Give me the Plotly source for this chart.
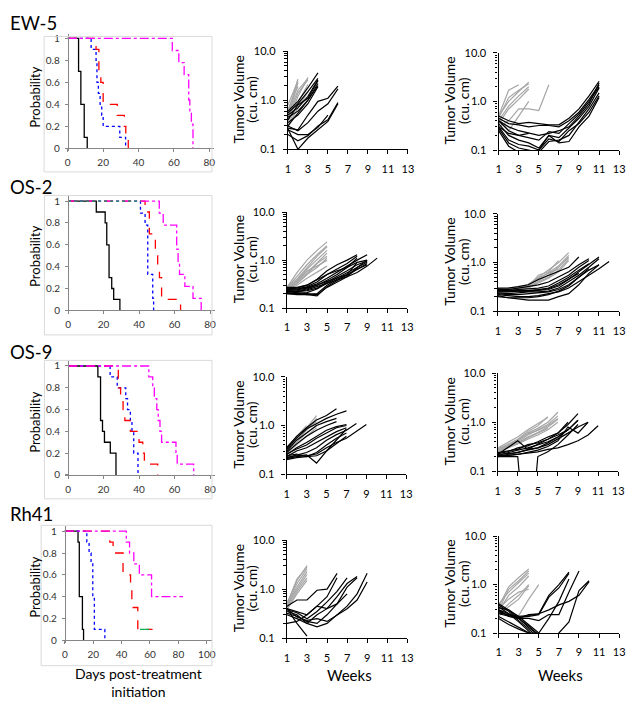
import plotly.graph_objects as go

W, H = 639, 709

# ---------------- Kaplan-Meier data (order: control black, blue, red, magenta) ----------------
ew5_times = [[0, 6.1, 7.4, 9.3, 11],
             [0, 13.2, 16, 16.5, 17.3, 18.3, 19.2, 20, 29.4, 32.7],
             [0, 16, 17.6, 18.7, 20, 28, 32, 32.8, 34.2],
             [0, 59.1, 62.8, 65.8, 68.4, 69, 69.9, 70.8]]
ew5_surv = [[1, 0.7, 0.4, 0.1, 0],
            [1, 0.9, 0.8, 0.6, 0.5, 0.4, 0.3, 0.2, 0.1, 0],
            [1, 0.9, 0.7, 0.6, 0.4, 0.3, 0.2, 0.1, 0],
            [1, 0.89, 0.78, 0.67, 0.44, 0.33, 0.22, 0]]

os2_times = [[0, 15.9, 20.9, 21.8, 23.1, 24.6, 25.7, 29.2],
             [0, 40.8, 43.4, 44.9, 47.7, 48.2],
             [0, 43.4, 45.8, 49.2, 50.5, 51.5, 52.7, 63.4],
             [0, 51.4, 53.6, 61.2, 62, 62.8, 65.8, 70.4, 75]]
os2_surv = [[1, 0.9, 0.8, 0.6, 0.3, 0.2, 0.1, 0],
            [1, 0.89, 0.78, 0.33, 0.11, 0],
            [1, 0.9, 0.7, 0.5, 0.4, 0.3, 0.1, 0],
            [1, 0.89, 0.78, 0.56, 0.44, 0.33, 0.22, 0.11, 0]]
os2_green_t = [0, 41]
os2_green_s = [1, 1]

os9_times = [[0, 16.8, 18.3, 19.4, 20.5, 23.8, 27],
             [0, 23.7, 27.7, 32.5, 33.5, 35.1, 36, 37, 39.4],
             [0, 28.3, 29.6, 31, 32, 35.1, 40, 42.1, 43, 50.5],
             [0, 45.5, 47.7, 48.6, 50, 50.8, 51.8, 52.7, 60.8, 61.5, 70.8]]
os9_surv = [[1, 0.9, 0.5, 0.4, 0.3, 0.2, 0],
            [1, 0.9, 0.8, 0.7, 0.6, 0.5, 0.4, 0.2, 0],
            [1, 0.8, 0.7, 0.6, 0.5, 0.4, 0.3, 0.2, 0.1, 0],
            [1, 0.9, 0.8, 0.7, 0.6, 0.5, 0.4, 0.3, 0.2, 0.1, 0]]

rh41_times = [[0, 9.3, 10.2, 12.4, 13.2],
              [0, 15.5, 17.1, 18.5, 19.7, 20.8, 28.2],
              [0, 31.7, 34, 41, 46.3, 47.2, 51.4, 61.8],
              [0, 43.3, 45.6, 48.6, 52.5, 61.1, 83.3]]
rh41_surv = [[1, 0.9, 0.4, 0.1, 0],
             [1, 0.9, 0.8, 0.7, 0.4, 0.1, 0],
             [1, 0.9, 0.8, 0.6, 0.5, 0.3, 0.1, 0.1],
             [1, 0.9, 0.8, 0.7, 0.6, 0.4, 0.4]]
rh41_green_t = [53, 60]
rh41_green_s = [0.1, 0.1]

# ---------------- Tumor volume data (weekly, starting week 1) ----------------
ew5_mid_gray = [[0.55, 2.7], [0.45, 2.3], [0.65, 1.9], [0.8, 2.5],
                [0.35, 1.2, 2.9], [0.4, 1.4, 2.6], [0.3, 0.9, 2.1],
                [0.5, 1.6, 2.8], [0.28, 0.7, 1.5]]
ew5_mid_black = [[0.6, 0.95, 1.8, 3.6], [0.55, 0.85, 1.5, 2.8], [0.5, 0.7, 1.2, 2.6],
                 [0.45, 0.6, 1.0, 2.2], [0.35, 0.5, 0.85, 1.9], [0.4, 0.8, 1.1, 2.5],
                 [0.3, 0.55, 1.0, 2.0],
                 [0.27, 0.25, 0.5, 0.95, 1.1, 1.95], [0.3, 0.24, 0.35, 0.6, 0.85, 1.7],
                 [0.2, 0.15, 0.19, 0.3, 0.4, 0.9], [0.26, 0.1, 0.17, 0.25, 0.37, 0.85],
                 [0.25, 0.2, 0.2, 0.28, 0.5]]

ew5_right_gray = [[0.5, 1.0, 1.6, 2.5], [0.45, 1.2, 1.7, 2.3], [0.4, 0.8, 1.3, 2.0],
                  [0.35, 0.7, 1.1, 1.8], [0.5, 1.7, 2.2],
                  [0.3, 0.4, 0.7, 0.7, 0.65, 2.2], [0.45, 0.25, 0.5, 1.0]]
ew5_right_black = [[0.5, 0.4, 0.35, 0.37, 0.35, 0.33, 0.33, 0.45, 0.7, 1.3, 2.6],
                   [0.45, 0.35, 0.33, 0.3, 0.32, 0.32, 0.3, 0.4, 0.6, 1.1, 2.2],
                   [0.4, 0.3, 0.25, 0.22, 0.2, 0.22, 0.25, 0.3, 0.5, 0.9, 2.4],
                   [0.35, 0.2, 0.16, 0.14, 0.11, 0.2, 0.18, 0.28, 0.45, 0.8, 1.9],
                   [0.3, 0.16, 0.13, 0.12, 0.1, 0.17, 0.15, 0.25, 0.35, 0.6, 1.3],
                   [0.28, 0.14, 0.11, 0.1, 0.09, 0.15, 0.16, 0.2, 0.38, 0.7, 1.5],
                   [0.25, 0.12, 0.09, 0.08, 0.1, 0.2, 0.14, 0.15, 0.3, 0.5, 1.2],
                   [0.4, 0.25, 0.2, 0.18, 0.16, 0.24, 0.22, 0.35, 0.55, 1.0, 2.0],
                   [0.3, 0.22, 0.2, 0.22]]

os2_mid_gray = [[0.27, 0.55, 1.0, 1.6, 2.4], [0.26, 0.45, 0.8, 1.3, 2.0],
                [0.28, 0.4, 0.7, 1.2, 1.9], [0.25, 0.38, 0.65, 1.0, 1.6],
                [0.26, 0.35, 0.55, 0.9, 1.4], [0.24, 0.33, 0.5, 0.85, 1.2],
                [0.27, 0.36, 0.6, 0.75, 1.0], [0.25, 0.3, 0.42, 0.55, 0.75],
                [0.26, 0.32, 0.5, 0.7, 1.1]]
os2_mid_black = [[0.25, 0.26, 0.3, 0.4, 0.6, 0.8, 1.0, 1.3],
                 [0.24, 0.25, 0.28, 0.35, 0.5, 0.65, 0.85, 1.2],
                 [0.26, 0.25, 0.27, 0.32, 0.42, 0.55, 0.75, 1.0, 1.3],
                 [0.23, 0.23, 0.25, 0.3, 0.38, 0.5, 0.7, 0.9, 1.0],
                 [0.22, 0.22, 0.23, 0.26, 0.35, 0.45, 0.6, 0.8, 0.95],
                 [0.21, 0.2, 0.21, 0.25, 0.33, 0.42, 0.55, 0.7, 0.9],
                 [0.2, 0.2, 0.19, 0.18, 0.28, 0.38, 0.5, 0.65, 0.8],
                 [0.22, 0.21, 0.2, 0.19, 0.27, 0.35, 0.45, 0.55, 0.75, 1.1],
                 [0.27, 0.27, 0.3, 0.38, 0.5, 0.6, 0.7, 1.1],
                 [0.24, 0.24, 0.26, 0.3, 0.36, 0.42, 0.5, 0.9],
                 [0.2, 0.19, 0.19, 0.2, 0.3, 0.4, 0.48, 0.65, 0.85],
                 [0.23, 0.22, 0.24, 0.28, 0.33, 0.38, 0.45, 0.7, 1.0]]

os2_right_gray = [[0.27, 0.28, 0.3, 0.35, 0.5, 0.7, 1.0, 1.6],
                  [0.26, 0.27, 0.29, 0.33, 0.45, 0.6, 0.85, 1.4],
                  [0.28, 0.28, 0.3, 0.32, 0.42, 0.55, 0.8, 1.3],
                  [0.25, 0.26, 0.28, 0.32, 0.55, 0.65, 1.1],
                  [0.27, 0.26, 0.28, 0.3, 0.4, 0.5, 0.7, 1.2],
                  [0.26, 0.25, 0.27, 0.3, 0.38, 0.48, 0.65, 1.1],
                  [0.28, 0.29, 0.31, 0.36, 0.48, 0.6, 0.75]]
os2_right_black = [[0.3, 0.3, 0.32, 0.35, 0.45, 0.55, 0.65, 0.8, 1.3],
                   [0.28, 0.28, 0.3, 0.32, 0.35, 0.4, 0.5, 0.65, 0.9, 1.2],
                   [0.27, 0.27, 0.28, 0.29, 0.3, 0.33, 0.42, 0.55, 0.8, 1.1],
                   [0.26, 0.26, 0.27, 0.27, 0.28, 0.3, 0.38, 0.5, 0.7, 0.95],
                   [0.25, 0.25, 0.26, 0.26, 0.27, 0.28, 0.33, 0.45, 0.65, 0.9, 1.3],
                   [0.24, 0.23, 0.24, 0.25, 0.25, 0.26, 0.3, 0.4, 0.55, 0.8, 1.2],
                   [0.23, 0.22, 0.22, 0.23, 0.24, 0.25, 0.28, 0.35, 0.5, 0.7, 0.9],
                   [0.22, 0.21, 0.2, 0.2, 0.21, 0.23, 0.25, 0.3, 0.4, 0.55, 0.75, 1.05],
                   [0.21, 0.19, 0.18, 0.17, 0.17, 0.17, 0.2, 0.23, 0.35, 0.6, 0.9],
                   [0.2, 0.19, 0.19, 0.19, 0.2, 0.22, 0.26, 0.33, 0.5, 0.75],
                   [0.29, 0.27, 0.26, 0.26, 0.27, 0.29, 0.35, 0.45, 0.6]]

os9_mid_gray = [[0.3, 0.55, 0.9, 1.6], [0.28, 0.5, 0.8, 1.4], [0.32, 0.6, 0.85, 1.2],
                [0.26, 0.45, 0.7, 1.0], [0.27, 0.4, 0.6, 0.9], [0.35, 0.6, 1.0]]
os9_mid_black = [[0.35, 0.6, 0.9, 1.3, 1.6, 2.2],
                 [0.33, 0.55, 0.85, 1.1, 1.4, 1.7, 2.0],
                 [0.3, 0.5, 0.7, 1.0, 1.2, 1.4],
                 [0.28, 0.42, 0.6, 0.8, 1.0, 1.2],
                 [0.25, 0.35, 0.45, 0.6, 0.8, 0.95, 1.05],
                 [0.23, 0.3, 0.35, 0.45, 0.6, 0.75, 0.9],
                 [0.22, 0.25, 0.28, 0.35, 0.5, 0.65, 0.8, 1.1],
                 [0.21, 0.23, 0.24, 0.26, 0.35, 0.45, 0.55, 0.75, 1.05],
                 [0.22, 0.24, 0.25, 0.17, 0.3, 0.5, 0.85],
                 [0.24, 0.26, 0.23, 0.28, 0.4, 0.55, 0.7],
                 [0.26, 0.33, 0.4, 0.55, 0.7, 0.9, 1.0],
                 [0.2, 0.22, 0.23, 0.24, 0.3, 0.42, 0.6]]

os9_right_gray = [[0.3, 0.38, 0.5, 0.7, 0.95, 1.25],
                  [0.28, 0.35, 0.45, 0.65, 0.85, 1.3],
                  [0.29, 0.33, 0.42, 0.6, 0.75, 1.0, 1.6],
                  [0.27, 0.32, 0.4, 0.55, 0.7, 0.9, 1.35],
                  [0.26, 0.3, 0.38, 0.5, 0.62, 0.8, 1.15],
                  [0.25, 0.3, 0.36, 0.45, 0.55, 0.7, 1.0],
                  [0.28, 0.34, 0.44, 0.58, 0.68, 0.85, 1.2],
                  [0.26, 0.31, 0.37, 0.48, 0.6, 0.75]]
os9_right_black = [[0.22, 0.3, 0.42, 0.28, 0.35, 0.45, 0.6, 0.9, 1.5],
                   [0.21, 0.24, 0.27, 0.3, 0.35, 0.4, 0.5, 0.7, 1.1],
                   [0.2, 0.22, 0.25, 0.27, 0.3, 0.35, 0.45, 0.6, 0.8, 1.0],
                   [0.2, 0.21, 0.22, 0.23, 0.25, 0.28, 0.3, 0.35, 0.42, 0.55, 0.85],
                   [0.23, 0.25, 0.3, 0.33, 0.4, 0.5, 0.6, 1.0],
                   [0.22, 0.23, 0.24, 0.28, 0.3, 0.38, 0.5, 0.7, 1.1],
                   [0.2, 0.2, 0.2, 0.001, 0.2, 0.25, 0.35, 0.55, 0.9],
                   [0.21, 0.21, 0.22, 0.24, 0.27, 0.32, 0.42, 0.8, 0.6, 1.0],
                   [0.24, 0.26, 0.28, 0.35, 0.38, 0.45, 0.55, 0.7]]

rh41_mid_gray = [[0.5, 1.5, 3.0], [0.45, 1.3, 2.6], [0.42, 1.1, 2.3], [0.48, 1.0, 2.0],
                 [0.4, 0.9, 1.7], [0.5, 1.6, 2.8], [0.38, 0.8, 1.5]]
rh41_mid_black = [[0.45, 0.6, 0.6, 0.95, 1.0, 2.1],
                  [0.4, 0.35, 0.3, 0.45, 0.7, 1.7],
                  [0.38, 0.33, 0.25, 0.35, 0.55, 0.9, 1.7],
                  [0.35, 0.3, 0.2, 0.3, 0.4, 0.7, 1.3, 1.8],
                  [0.32, 0.28, 0.22, 0.2, 0.3, 0.5, 1.1, 1.7],
                  [0.3, 0.25, 0.2, 0.17, 0.2, 0.3, 0.45, 0.8, 2.1],
                  [0.4, 0.27, 0.23, 0.25, 0.22, 0.3, 0.4, 0.6, 1.4],
                  [0.2, 0.22, 0.3, 0.45, 0.4, 0.5, 0.8],
                  [0.4, 0.2, 0.11]]

rh41_right_gray = [[0.35, 0.9, 1.4, 2.1], [0.3, 0.8, 1.2, 1.9], [0.4, 0.7, 1.1, 1.7],
                   [0.28, 0.6, 0.9, 1.5], [0.25, 0.4, 0.6, 1.0], [0.22, 0.35, 0.5, 0.95],
                   [0.3, 0.25, 0.23, 0.5, 1.0], [0.32, 0.5, 0.7, 0.8]]
rh41_right_black = [[0.4, 0.3, 0.2, 0.13, 0.09], [0.38, 0.28, 0.18, 0.12, 0.08],
                    [0.35, 0.25, 0.17, 0.11, 0.07], [0.33, 0.3, 0.22, 0.15, 0.1],
                    [0.3, 0.22, 0.2, 0.14, 0.09],
                    [0.3, 0.25, 0.2, 0.24, 0.25, 0.6, 1.0, 1.8],
                    [0.28, 0.23, 0.21, 0.22, 0.24, 0.55, 0.85, 1.7],
                    [0.25, 0.22, 0.2, 0.2, 0.18, 0.24, 0.24, 0.7, 1.9],
                    [0.2, 0.15, 0.12, 0.1, 0.1, 0.2, 0.45, 1.3],
                    [0.22, 0.17, 0.13, 0.1, 0.08, 0.06, 0.1, 0.17, 0.75, 1.2],
                    [0.26, 0.24, 0.22, 0.23, 0.25, 0.3, 0.38, 0.45, 0.6, 1.15]]

km_titles = ["EW-5", "OS-2", "OS-9", "Rh41"]
km_xticks = [[0, 20, 40, 60, 80], [0, 20, 40, 60, 80], [0, 20, 40, 60, 80], [0, 20, 40, 60, 80, 100]]
km_yticks = [0, 0.2, 0.4, 0.6, 0.8, 1]
km_yticktext = ["0", "0.2", "0.4", "0.6", "0.8", "1"]
tv_xticks = [1, 3, 5, 7, 9, 11, 13]
tv_yticks = [0.1, 1, 10]
tv_yticktext = ["0.1", "1.0", "10.0"]

FONT = "Lato"
KM_COLORS = ["#000000", "#0000FF", "#FF0000", "#FF00FF"]
KM_DASH = ["solid", "dot", "dash", "dashdot"]
GRAY = "#A6A6A6"

fig = go.Figure()
layout = {}
shapes = []
annotations = []

def ann(text, x, y, size, angle=0, xanchor="center"):
    annotations.append(dict(text=text, x=x / W, y=1 - y / H, xref="paper", yref="paper",
                            textangle=angle, showarrow=False, xanchor=xanchor, yanchor="middle",
                            borderpad=0, font=dict(family=FONT, size=size, color="black")))

# KM geometry (pixel positions of data 0, data max, y=1, y=0, frame top, frame bottom)
km_geo = [(65.7, 209.2, 80, 32, 144, 30, 168),
          (66, 210, 80, 197.7, 309, 192, 334),
          (66, 210, 80, 365.7, 476.7, 360, 501),
          (62.7, 206.7, 100, 534, 645, 528, 671)]

def km_axes(idx, x0, x1, xmax, y1, y0, xticks):
    ppx = (x1 - x0) / xmax
    ppy = (y0 - y1)
    pl, pr, pt, pb = 3, 5, 5, 3
    layout[f"xaxis{idx}"] = dict(domain=[(x0 - pl) / W, (x1 + pr) / W], range=[-pl / ppx, xmax + pr / ppx],
                                 anchor="free", position=1 - y0 / H, showline=True, linecolor="#868686",
                                 linewidth=1, ticks="outside", ticklen=3, tickcolor="#868686",
                                 tickvals=xticks, showgrid=False, zeroline=False,
                                 tickfont=dict(family=FONT, size=10, color="#333333"),
                                 ticklabelstandoff=2, fixedrange=True)
    layout[f"yaxis{idx}"] = dict(domain=[1 - (y0 + pb) / H, 1 - (y1 - pt) / H], range=[-pb / ppy, 1 + pt / ppy],
                                 anchor="free", position=x0 / W, showline=True, linecolor="#868686",
                                 linewidth=1, ticks="outside", ticklen=3, tickcolor="#868686",
                                 tickvals=km_yticks, ticktext=km_yticktext, showgrid=False, zeroline=False,
                                 tickfont=dict(family=FONT, size=10, color="#333333"),
                                 ticklabelstandoff=3, fixedrange=True)

km_sets = [(ew5_times, ew5_surv), (os2_times, os2_surv), (os9_times, os9_surv), (rh41_times, rh41_surv)]
for r, ((ts, ss), geo) in enumerate(zip(km_sets, km_geo)):
    idx = r * 3 + 1
    x0, x1, xmax, y1, y0, btop, bbot = geo
    km_axes(idx, x0, x1, xmax, y1, y0, km_xticks[r])
    for g in range(4):
        fig.add_trace(go.Scatter(x=ts[g], y=ss[g], mode="lines", line_shape="hv",
                                 line=dict(color=KM_COLORS[g], width=1.3, dash=KM_DASH[g]),
                                 xaxis=f"x{idx}", yaxis=f"y{idx}", showlegend=False))
    if r == 1:
        fig.add_trace(go.Scatter(x=os2_green_t, y=os2_green_s, mode="lines",
                                 line=dict(color="#00B050", width=1.3, dash="dot"),
                                 xaxis=f"x{idx}", yaxis=f"y{idx}", showlegend=False))
    if r == 3:
        fig.add_trace(go.Scatter(x=rh41_green_t, y=rh41_green_s, mode="lines",
                                 line=dict(color="#00B050", width=1.3, dash="dash"),
                                 xaxis=f"x{idx}", yaxis=f"y{idx}", showlegend=False))
    shapes.append(dict(type="rect", xref="paper", yref="paper", x0=(x0 - 24) / W, x1=212 / W,
                       y0=1 - bbot / H, y1=1 - btop / H, line=dict(color="#D9D9D9", width=1)))

# Tumor volume geometry
tv_geo = [(289, 410.7, 45, 145), (502.7, 625, 46.7, 145.7),
          (288, 410, 209, 306.7), (502, 625, 210.7, 310),
          (287.7, 409, 376.7, 476), (501.7, 624, 373, 473),
          (288, 410, 543, 643), (502.7, 625, 539, 637.7)]
minor_vals = [k * 0.1 for k in range(2, 10)] + [float(k) for k in range(2, 10)]

tv_sets = [(ew5_mid_gray, ew5_mid_black), (ew5_right_gray, ew5_right_black),
           (os2_mid_gray, os2_mid_black), (os2_right_gray, os2_right_black),
           (os9_mid_gray, os9_mid_black), (os9_right_gray, os9_right_black),
           (rh41_mid_gray, rh41_mid_black), (rh41_right_gray, rh41_right_black)]

for k, ((grays, blacks), geo) in enumerate(zip(tv_sets, tv_geo)):
    r, c = divmod(k, 2)
    idx = r * 3 + 2 + c
    xa, xb, top, bot = geo
    layout[f"xaxis{idx}"] = dict(domain=[xa / W, xb / W], range=[1, 13], anchor=f"y{idx}",
                                 showline=True, linecolor="black", linewidth=1.3, ticks="outside",
                                 ticklen=4, tickcolor="black", tickwidth=1.3, tickvals=tv_xticks,
                                 showgrid=False, zeroline=False, ticklabelstandoff=5,
                                 tickfont=dict(family=FONT, size=11, color="black"), fixedrange=True)
    layout[f"yaxis{idx}"] = dict(domain=[1 - bot / H, 1 - top / H], type="log", range=[-1, 1],
                                 anchor=f"x{idx}", showline=True, linecolor="black", linewidth=1.3,
                                 ticks="outside", ticklen=4, tickcolor="black", tickwidth=1.3,
                                 tickvals=tv_yticks, ticktext=tv_yticktext, showgrid=False,
                                 zeroline=False, ticklabelstandoff=5,
                                 minor=dict(ticks="outside", ticklen=2.5, tickcolor="black", tickwidth=1,
                                            tickvals=minor_vals, showgrid=False),
                                 tickfont=dict(family=FONT, size=11, color="black"), fixedrange=True)
    for v in grays:
        fig.add_trace(go.Scatter(x=list(range(1, len(v) + 1)), y=v, mode="lines",
                                 line=dict(color=GRAY, width=1.2), xaxis=f"x{idx}", yaxis=f"y{idx}",
                                 showlegend=False))
    for v in blacks:
        fig.add_trace(go.Scatter(x=list(range(1, len(v) + 1)), y=v, mode="lines",
                                 line=dict(color="black", width=1.2), xaxis=f"x{idx}", yaxis=f"y{idx}",
                                 showlegend=False))
    tx1, tx2 = (238.5, 252) if c == 0 else (452.5, 467)
    ym = (top + bot) / 2 - 1
    ann("Tumor Volume", tx1, ym, 14, -90)
    ann("(cu. cm)", tx2, ym, 14, -90)

# Titles
title_y = [16, 183.5, 351, 516]
for t, ty in zip(km_titles, title_y):
    ann(t, 6.5, ty, 18.5, 0, "left")
prob_y = [92, 254, 423, 591]
for py in prob_y:
    ann("Probability", 33, py, 13, -90)
ann("Days post-treatment<br>initiation", 137, 688, 14)
for wx in (351, 565):
    ann("Weeks", wx, 680, 15)

fig.update_layout(width=W, height=H, margin=dict(l=0, r=0, t=0, b=0),
                  paper_bgcolor="white", plot_bgcolor="white", showlegend=False,
                  shapes=shapes, annotations=annotations, **layout)
fig.write_html("out.html", config={"displayModeBar": False},
               post_script="document.body.style.margin='0';document.body.style.overflow='hidden';")
